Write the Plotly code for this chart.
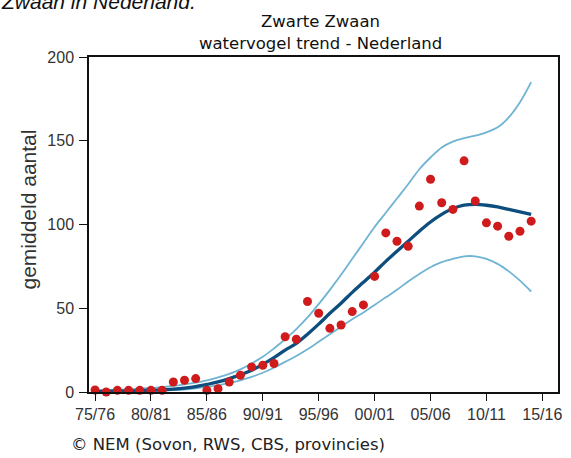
import plotly.graph_objects as go

seasons = list(range(1975, 2015))  # 75/76 ... 14/15
counts = [1.2, 0, 1, 1, 1, 1, 1, 6, 7, 8,
          1, 2, 6, 10, 15, 16, 17, 33, 31.5, 54,
          47, 38, 40, 48, 52, 69, 95, 90, 87, 111,
          127, 113, 109, 138, 114, 101, 99, 93, 96, 102]
trend = [0.3, 0.4, 0.5, 0.6, 0.8, 1.0, 1.3, 1.7, 2.3, 3.2,
         4.5, 6.0, 8.0, 10.3, 13.0, 16.5, 20.5, 25, 29, 34.5,
         40.5, 47, 53, 59.5, 65.5, 71.5, 78, 84, 90, 96,
         101.5, 106, 109.5, 111.5, 112, 111.5, 110.5, 109, 107.5, 106]
upper = [1, 1.2, 1.4, 1.6, 2, 2.4, 3, 3.6, 4.5, 5.6,
         7, 8.7, 10.8, 13.5, 17, 21, 26, 31.5, 37.5, 44.5,
         52.5, 61, 70, 79.5, 89, 98.5, 107, 115.5, 124, 133,
         140, 146, 149.5, 151.5, 153, 155, 158, 164, 173, 185]
lower = [0, 0.1, 0.2, 0.3, 0.4, 0.6, 0.8, 1.1, 1.5, 2.2,
         3, 4, 5.3, 7, 9, 11.5, 14.5, 18, 21.5, 25.5,
         30, 34.5, 39, 43.5, 47.5, 52, 56.5, 61, 66, 70.5,
         74.5, 77.5, 79.5, 81, 81, 79.5, 76.5, 72, 66.5, 60]
tick_years = [1975, 1980, 1985, 1990, 1995, 2000, 2005, 2010, 2015]
tick_labels = ["75/76", "80/81", "85/86", "90/91", "95/96", "00/01", "05/06", "10/11", "15/16"]
y_ticks = [0, 50, 100, 150, 200]

W, H = 571, 458
L, R, T, B = 89, 9, 57, 66
pw, ph = W - L - R, H - T - B

def px(x):
    return (x - L) / pw

def py(y):
    return (H - B - y) / ph

light = "#6fb4d3"
dark = "#0d4e7e"
red = "#cf1b1b"

fig = go.Figure()
fig.add_trace(go.Scatter(x=seasons, y=upper, mode="lines", line=dict(color=light, width=1.8, shape="spline"), hoverinfo="skip"))
fig.add_trace(go.Scatter(x=seasons, y=lower, mode="lines", line=dict(color=light, width=1.8, shape="spline"), hoverinfo="skip"))
fig.add_trace(go.Scatter(x=seasons, y=trend, mode="lines", line=dict(color=dark, width=3.3, shape="spline")))
fig.add_trace(go.Scatter(x=seasons, y=counts, mode="markers", marker=dict(color=red, size=9), cliponaxis=False))

tickfont = dict(family="Liberation Sans, Arial", size=16, color="#333333")
fig.update_layout(
    width=W, height=H,
    margin=dict(l=L, r=R, t=T, b=B),
    paper_bgcolor="white", plot_bgcolor="white",
    showlegend=False,
    xaxis=dict(range=[1974.46, 2016.4], tickmode="array", tickvals=tick_years, ticktext=tick_labels,
               showgrid=False, zeroline=False, showline=True, linecolor="#111111", linewidth=1.5,
               mirror=True, ticks="outside", ticklen=7, tickcolor="#111111", tickwidth=1.3,
               tickfont=tickfont),
    yaxis=dict(range=[0, 200], tickmode="array", tickvals=y_ticks,
               showgrid=False, zeroline=False, showline=True, linecolor="#111111", linewidth=1.5,
               mirror=True, ticks="outside", ticklen=8, tickcolor="#111111", tickwidth=1.3,
               tickfont=tickfont, ticklabelstandoff=2),
    annotations=[
        dict(text="Zwarte Zwaan", x=px(322), y=py(22), xref="paper", yref="paper", showarrow=False,
             xanchor="center", yanchor="middle", font=dict(family="DejaVu Sans", size=16.5, color="#111111")),
        dict(text="watervogel trend - Nederland", x=px(322), y=py(44), xref="paper", yref="paper", showarrow=False,
             xanchor="center", yanchor="middle", font=dict(family="DejaVu Sans", size=16.5, color="#111111")),
        dict(text="gemiddeld aantal", x=px(27), y=py(210), xref="paper", yref="paper", showarrow=False,
             textangle=-90, xanchor="center", yanchor="middle",
             font=dict(family="Liberation Sans, Arial", size=21, color="#333333")),
        dict(text="© NEM (Sovon, RWS, CBS, provincies)", x=px(69), y=py(444), xref="paper", yref="paper",
             showarrow=False, xanchor="left", yanchor="middle",
             font=dict(family="DejaVu Sans", size=16.5, color="#222222")),
        dict(text="<i>Zwaan in Nederland.</i>", x=px(-2), y=py(2), xref="paper", yref="paper",
             showarrow=False, xanchor="left", yanchor="middle",
             font=dict(family="Liberation Sans, Arial", size=21, color="#111111")),
    ],
)

fig.write_html("out.html", config={"displayModeBar": False},
               post_script="document.body.style.margin='0';document.body.style.padding='0';")
